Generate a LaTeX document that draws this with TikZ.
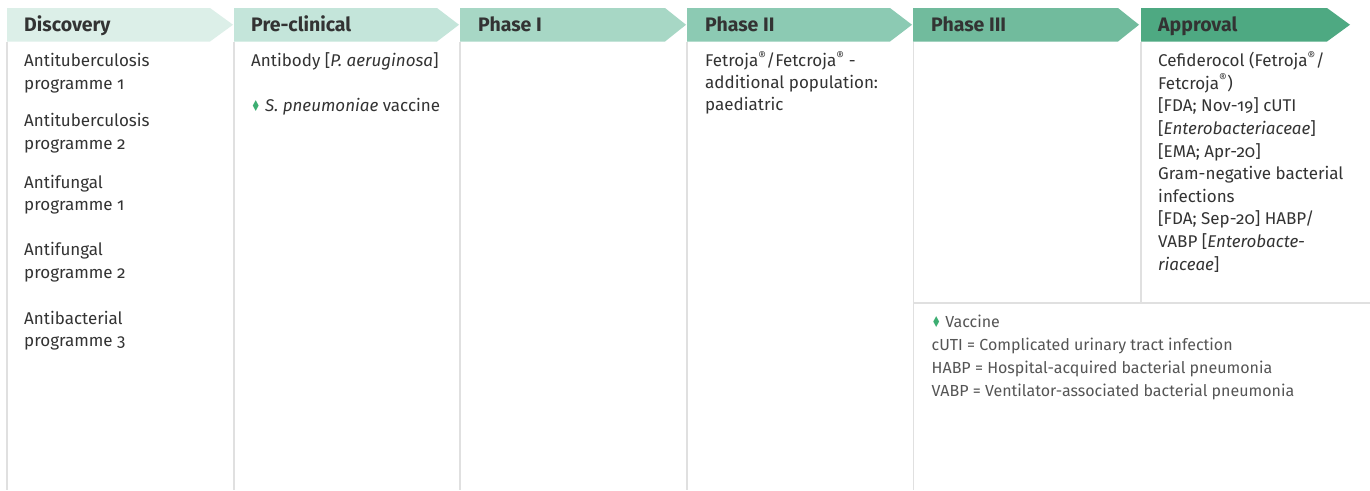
\documentclass[tikz,border=0pt]{standalone}
\usepackage{fontspec}
\setmainfont{Fira Sans}[Numbers=OldStyle]
\newfontfamily\symfont{DejaVu Sans}
\definecolor{cA}{HTML}{DCEFE8}
\definecolor{cB}{HTML}{C4E5DA}
\definecolor{cC}{HTML}{A7D7C5}
\definecolor{cD}{HTML}{8CCAB3}
\definecolor{cE}{HTML}{71BB9D}
\definecolor{cF}{HTML}{4EA982}
\definecolor{rule}{HTML}{E0E0E0}
\definecolor{txt}{HTML}{333333}
\definecolor{leg}{HTML}{555555}
\definecolor{dia}{HTML}{3DAE72}
\newcommand{\dmd}{{\color{dia}\symfont\fontsize{15}{15}\selectfont\scalebox{0.7}[1]{♦}}}
\newcommand{\reg}{\textsuperscript{®}}
\begin{document}
\begin{tikzpicture}[x=1pt,y=-1pt,
  hdrtext/.style={anchor=base west,inner sep=0pt,text=txt,font=\fontsize{19.5}{22}\selectfont\bfseries},
  body/.style={anchor=base west,inner sep=0pt,text=txt,align=left,font=\fontsize{17}{22.7}\selectfont},
  legtext/.style={anchor=base west,inner sep=0pt,text=leg,align=left,font=\fontsize{16}{22.7}\selectfont},
  sep/.style={draw=rule,line width=1.5pt}]
\useasboundingbox (0,0) rectangle (1370,490);
\fill[white] (0,0) rectangle (1370,490);
% separators
\draw[sep] (7,41.5) -- (7,490);
\draw[sep] (234,41.5) -- (234,490);
\draw[sep] (460,41.5) -- (460,490);
\draw[sep] (687,41.5) -- (687,490);
\draw[sep] (913.5,41.5) -- (913.5,490);
\draw[sep] (1141,41.5) -- (1141,303);
\draw[sep] (913.5,303) -- (1370,303);
% chevrons
\fill[cA] (7,8) -- (210,8) -- (233,24.75) -- (210,41.5) -- (7,41.5) -- cycle;
\fill[cB] (234,8) -- (437,8) -- (459,24.75) -- (437,41.5) -- (234,41.5) -- cycle;
\fill[cC] (460,8) -- (665,8) -- (686,24.75) -- (665,41.5) -- (460,41.5) -- cycle;
\fill[cD] (687,8) -- (890,8) -- (912,24.75) -- (890,41.5) -- (687,41.5) -- cycle;
\fill[cE] (913,8) -- (1118,8) -- (1139,24.75) -- (1118,41.5) -- (913,41.5) -- cycle;
\fill[cF] (1141,8) -- (1327,8) -- (1350,24.75) -- (1327,41.5) -- (1141,41.5) -- cycle;
% header labels
\node[hdrtext] (h1) at (24,31.5) {Discovery};
\node[hdrtext] (h2) at (251,31.5) {Pre-clinical};
\node[hdrtext] (h3) at (478,31.5) {Phase I};
\node[hdrtext] (h4) at (705,31.5) {Phase II};
\node[hdrtext] (h5) at (931,31.5) {Phase III};
\node[hdrtext] (h6) at (1158,31.5) {Approval};
% discovery (anchored at the baseline of the last line)
\node[body] (d1) at (24,89.5) {Antituberculosis\\programme 1};
\node[body] (d2) at (24,149.3) {Antituberculosis\\programme 2};
\node[body] (d3) at (24,210.7) {Antifungal\\programme 1};
\node[body] (d4) at (24,278.3) {Antifungal\\programme 2};
\node[body] (d5) at (24,346.7) {Antibacterial\\programme 3};
% pre-clinical
\node[body] (p1) at (251,66.5) {Antibody [\textit{P. aeruginosa}]};
\node[body] (p2) at (251,111) {\dmd\ \textit{S. pneumoniae} vaccine};
% phase II
\node[body,font=\fontsize{17}{22}\selectfont] (q1) at (705,110.5) {Fetroja\reg/Fetcroja\reg\ -\\additional population:\\paediatric};
% approval
\node[body,font=\fontsize{17}{22.6}\selectfont] (a1) at (1158,270) {Cefiderocol (Fetroja\reg/\\Fetcroja\reg)\\{[}FDA; Nov-19] cUTI\\{[}\textit{Enterobacteriaceae}]\\{[}EMA; Apr-20]\\Gram-negative bacterial\\infections\\{[}FDA; Sep-20] HABP/\\VABP [\textit{Enterobacte-}\\\textit{riaceae}]};
% legend
\node[legtext] (l1) at (931.5,396) {\dmd\ Vaccine\\cUTI = Complicated urinary tract infection\\HABP = Hospital-acquired bacterial pneumonia\\VABP = Ventilator-associated bacterial pneumonia};
\end{tikzpicture}
\end{document}
